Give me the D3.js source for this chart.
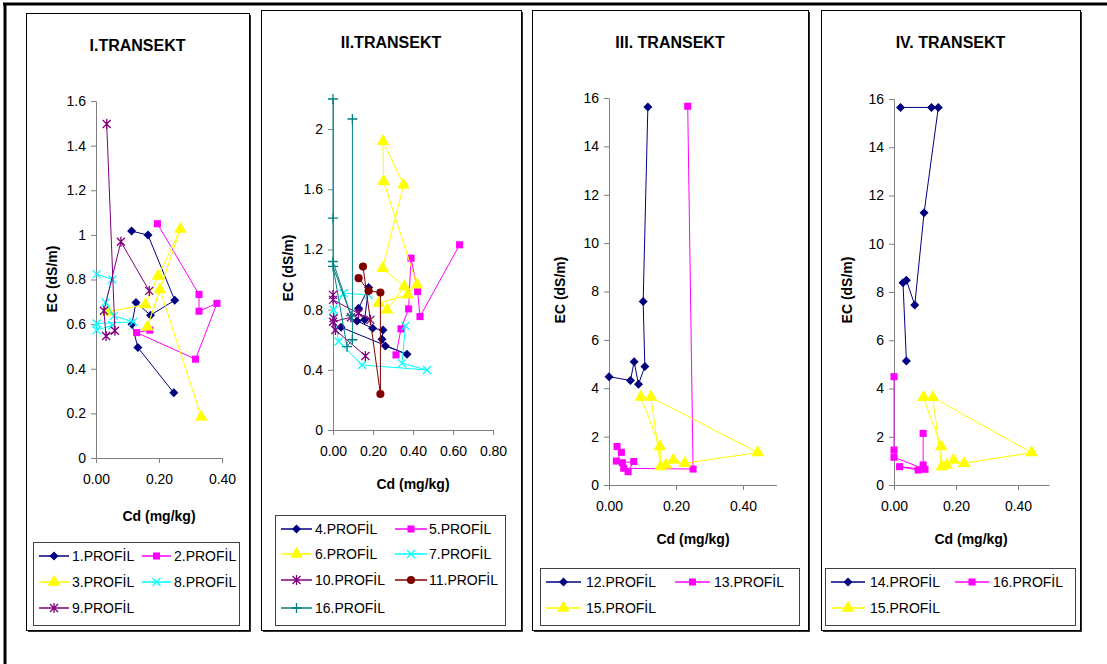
<!DOCTYPE html>
<html>
<head>
  <meta charset="UTF-8">
  <title>EC - Cd</title>
  <style>
    body{ margin:0; background:#fff; }
    svg{ font-family: Arial, 'Liberation Sans', Helvetica, sans-serif; }
    .tick text{ font-size:14px; fill:#000; font-family: Arial, 'Liberation Sans', sans-serif; }
    .domain, .tick line{ stroke:#808080; }
    .ptitle{ font-size:16px; font-weight:bold; text-anchor:middle; }
    .atitle{ font-size:14px; font-weight:bold; text-anchor:middle; }
    .legend text{ font-size:14px; }
  </style>
</head>
<body>
<script src="https://cdn.jsdelivr.net/npm/d3@7"></script>
<script>
/// data  [Cd (mg/kg), EC (dS/m)]

// I.TRANSEKT
var p1 = [[0.113,1.017],[0.165,0.999],[0.25,0.707],[0.173,0.64],[0.127,0.697],[0.114,0.60],[0.133,0.495],[0.247,0.292]];
var p2 = [[0.195,1.05],[0.327,0.733],[0.327,0.658],[0.384,0.693],[0.316,0.443],[0.129,0.562],[0.171,0.573]];
var p3 = [[0.039,0.655],[0.157,0.688],[0.197,0.815],[0.268,1.026],[0.163,0.588],[0.203,0.755],[0.334,0.184]];
var p8 = [[0.002,0.824],[0.052,0.80],[0.03,0.697],[0.057,0.637],[0.118,0.61],[0.002,0.603],[0.002,0.573],[0.052,0.595]];
var p9 = [[0.169,0.749],[0.079,0.969],[0.025,0.66],[0.032,0.547],[0.06,0.57],[0.034,1.497]];

// II.TRANSEKT
var p4 = [[0.128,0.809],[0.178,0.947],[0.158,0.732],[0.12,0.725],[0.198,0.676],[0.25,0.665],[0.245,0.603],[0.262,0.559],[0.37,0.503],[0.04,0.683]];
var p5 = [[0.633,1.231],[0.435,0.754],[0.423,0.92],[0.39,1.142],[0.378,0.805],[0.34,0.672],[0.315,0.499]];
var p6 = [[0.27,0.798],[0.357,0.953],[0.248,1.075],[0.353,1.63],[0.25,1.918],[0.253,1.652],[0.42,0.965],[0.373,0.898],[0.228,0.843]];
var p7 = [[0.362,0.692],[0.345,0.443],[0.47,0.399],[0.145,0.432],[0.028,0.588],[0.003,0.798],[0.053,0.909],[0.178,0.898]];
var p10 = [[0,0.898],[0,0.865],[0.187,0.732],[0.128,0.776],[0.09,0.749],[0,0.72],[0.003,0.743],[0.012,0.665],[0.162,0.492]];
var p11 = [[0.128,1.009],[0.178,0.925],[0.237,0.914],[0.237,0.239],[0.15,1.086]];
var p16a = [[0,2.2],[0,1.408],[0,1.12],[0.09,0.76],[0,1.087],[0.07,0.554],[0.097,0.6],[0.097,2.067]];

// III.TRANSEKT
var p12 = [[0,4.48],[0.064,4.32],[0.075,5.1],[0.088,4.17],[0.107,4.9],[0.102,7.59],[0.116,15.63]];
var p13 = [[0.024,1.59],[0.037,1.35],[0.022,0.99],[0.04,0.92],[0.074,0.97],[0.057,0.55],[0.044,0.69],[0.251,0.66],[0.235,15.66]];
var p15 = [[0.095,3.63],[0.152,1.59],[0.154,0.76],[0.125,3.63],[0.444,1.34],[0.226,0.9],[0.192,1.03],[0.17,0.83]];

// IV.TRANSEKT
var p14 = [[0.021,15.65],[0.121,15.65],[0.143,15.65],[0.097,11.28],[0.067,7.46],[0.04,8.49],[0.029,8.38],[0.04,5.14]];
var p16b = [[0,4.49],[0,1.45],[0,1.15],[0.1,0.65],[0.018,0.76],[0.078,0.62],[0.094,0.83],[0.094,2.14]];

// tick values
var ticksEC1 = [0,0.2,0.4,0.6,0.8,1,1.2,1.4,1.6];
var ticksCd1 = [0,0.2,0.4];
var ticksEC2 = [0,0.4,0.8,1.2,1.6,2];
var ticksCd2 = [0,0.2,0.4,0.6,0.8];
var ticksEC3 = [0,2,4,6,8,10,12,14,16];
var ticksCd3 = [0,0.2,0.4];

var titles = ["I.TRANSEKT","II.TRANSEKT","III. TRANSEKT","IV. TRANSEKT"];

/// styles
var navy = "#000080", magenta = "#ff00ff", yellow = "#ffff00", cyan = "#00ffff",
    purple = "#800080", darkred = "#800000", teal = "#008080";

var panels = [
  {title:titles[0], box:[26,13,249,630], titleY:51,
   xd:[0,0.4], yd:[0,1.6], px:[96,222], py:[458,101], xt:ticksCd1, yt:ticksEC1,
   cd:[159,521], ec:[52,279],
   series:[["1.PROFİL",p1,navy,"diamond"],["2.PROFİL",p2,magenta,"square"],
           ["3.PROFİL",p3,yellow,"triangle"],["8.PROFİL",p8,cyan,"x"],
           ["9.PROFİL",p9,purple,"star"]],
   legend:{box:[33,542,239,625], rows:[556,582,608], cols:[[39,69,72],[142,171,174]]}},
  {title:titles[1], box:[261,10,521,630], titleY:48,
   xd:[0,0.8], yd:[0,2.2], px:[333,493], py:[430,99], xt:ticksCd2, yt:ticksEC2,
   cd:[413,489], ec:[288,268],
   series:[["4.PROFİL",p4,navy,"diamond"],["5.PROFİL",p5,magenta,"square"],
           ["6.PROFİL",p6,yellow,"triangle"],["7.PROFİL",p7,cyan,"x"],
           ["10.PROFİL",p10,purple,"star"],["11.PROFİL",p11,darkred,"circle"],
           ["16.PROFİL",p16a,teal,"plus"]],
   legend:{box:[275,515,505,625], rows:[529,554,580,608], cols:[[281,312,315],[395,427,429]]}},
  {title:titles[2], box:[532,10,808,630], titleY:48,
   xd:[0,0.5], yd:[0,16], px:[609,776.5], py:[485,98], xt:ticksCd3, yt:ticksEC3,
   cd:[693,544], ec:[560,290],
   series:[["12.PROFİL",p12,navy,"diamond"],["13.PROFİL",p13,magenta,"square"],
           ["15.PROFİL",p15,yellow,"triangle"]],
   legend:{box:[540,568,799,625], rows:[582,608], cols:[[546,581,586],[675,710,714]]}},
  {title:titles[3], box:[821,10,1080,630], titleY:48,
   xd:[0,0.5], yd:[0,16], px:[894,1049], py:[485,99], xt:ticksCd3, yt:ticksEC3,
   cd:[971,544], ec:[847,290],
   series:[["14.PROFİL",p14,navy,"diamond"],["16.PROFİL",p16b,magenta,"square"],
           ["15.PROFİL",p15,yellow,"triangle"]],
   legend:{box:[825,568,1075,625], rows:[582,608], cols:[[831,865,870],[955,989,993]]}}
];

/// marker shapes
function marker(sel, type, color) {
  var filled = {square:d3.symbolSquare, triangle:d3.symbolTriangle, circle:d3.symbolCircle};
  var sizes = {square:50, triangle:70, circle:52};
  if (type == "diamond") {
    sel.attr("d", "M0,-4.5L4.5,0L0,4.5L-4.5,0Z")
       .attr("fill", color).attr("stroke", "none");
  } else if (filled[type]) {
    sel.attr("d", d3.symbol(filled[type], sizes[type])())
       .attr("fill", color).attr("stroke", "none");
  } else {
    var d = type == "x" ? "M-4,-4L4,4M-4,4L4,-4"
          : type == "star" ? "M-4,-4L4,4M-4,4L4,-4M0,-5L0,5"
          : "M-5,0L5,0M0,-5L0,5";
    sel.attr("d", d).attr("fill", "none").attr("stroke", color).attr("stroke-width", 1.3);
  }
}

/// main
var svg = d3.select("body").append("svg")
    .attr("width", 1107).attr("height", 664);

// outer frame
svg.append("line").attr("x1", 3).attr("x2", 1107).attr("y1", 4).attr("y2", 4)
   .attr("stroke", "#000").attr("stroke-width", 3);
svg.append("line").attr("x1", 5).attr("x2", 5).attr("y1", 3).attr("y2", 664)
   .attr("stroke", "#000").attr("stroke-width", 3);

panels.forEach(function(p) {
  var g = svg.append("g");
  var b = p.box;
  // panel box with shadow
  g.append("rect").attr("x", b[0] + 2).attr("y", b[1] + 2)
   .attr("width", b[2] - b[0]).attr("height", b[3] - b[1]).attr("fill", "#333");
  g.append("rect").attr("x", b[0] + 0.5).attr("y", b[1] + 0.5)
   .attr("width", b[2] - b[0]).attr("height", b[3] - b[1])
   .attr("fill", "#fff").attr("stroke", "#000");

  g.append("text").attr("class", "ptitle")
   .attr("x", (b[0] + b[2]) / 2).attr("y", p.titleY).text(p.title);

  var x = d3.scaleLinear().domain(p.xd).range(p.px);
  var y = d3.scaleLinear().domain(p.yd).range(p.py);

  g.append("g").attr("transform", "translate(0," + y(0) + ")")
   .call(d3.axisBottom(x).tickValues(p.xt).tickSize(5).tickSizeOuter(0)
         .tickPadding(11).tickFormat(d3.format(".2f")));
  g.append("g").attr("transform", "translate(" + x(0) + ",0)")
   .call(d3.axisLeft(y).tickValues(p.yt).tickSize(5).tickSizeOuter(0)
         .tickPadding(5).tickFormat(function(d) { return String(d); }));

  g.append("text").attr("class", "atitle")
   .attr("x", p.cd[0]).attr("y", p.cd[1]).text("Cd (mg/kg)");
  g.append("text").attr("class", "atitle")
   .attr("transform", "translate(" + p.ec[0] + "," + p.ec[1] + ") rotate(-90)")
   .attr("dy", "0.35em").text("EC (dS/m)");

  var line = d3.line().x(function(d) { return x(d[0]); }).y(function(d) { return y(d[1]); });

  p.series.forEach(function(s) {
    var sg = g.append("g");
    sg.append("path").attr("d", line(s[1]))
      .attr("fill", "none").attr("stroke", s[2]).attr("stroke-width", 1);
    sg.selectAll("path.pt").data(s[1]).enter().append("path")
      .attr("class", "pt")
      .attr("transform", function(d) { return "translate(" + x(d[0]) + "," + y(d[1]) + ")"; })
      .call(marker, s[3], s[2]);
  });

  // legend
  var L = p.legend;
  var lg = g.append("g").attr("class", "legend");
  lg.append("rect").attr("x", L.box[0] + 0.5).attr("y", L.box[1] + 0.5)
    .attr("width", L.box[2] - L.box[0]).attr("height", L.box[3] - L.box[1])
    .attr("fill", "#fff").attr("stroke", "#404040");
  p.series.forEach(function(s, i) {
    var c = L.cols[i % 2], ry = L.rows[Math.floor(i / 2)];
    lg.append("line").attr("x1", c[0]).attr("x2", c[1]).attr("y1", ry).attr("y2", ry)
      .attr("stroke", s[2]).attr("stroke-width", 1.5);
    lg.append("path").attr("transform", "translate(" + (c[0] + c[1]) / 2 + "," + ry + ")")
      .call(marker, s[3], s[2]);
    lg.append("text").attr("x", c[2]).attr("y", ry).attr("dy", "0.35em").text(s[0]);
  });
});
</script>
</body>
</html>
